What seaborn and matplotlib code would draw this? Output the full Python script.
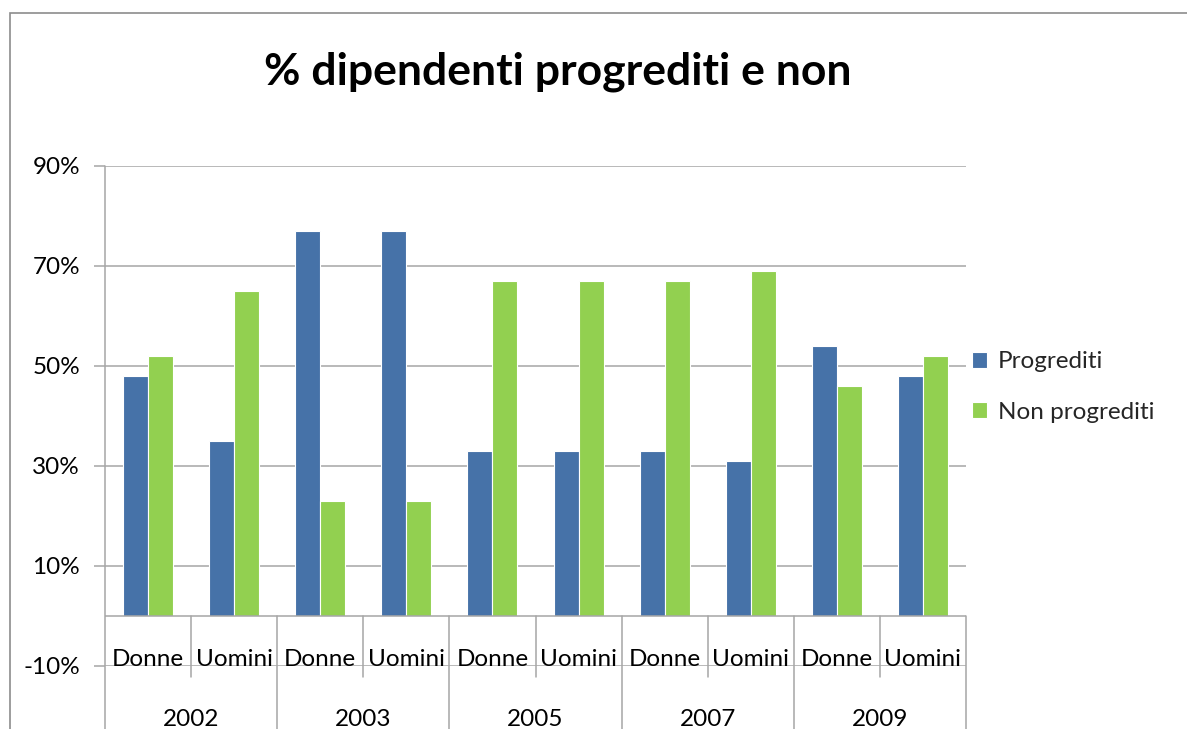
import matplotlib
matplotlib.use('Agg')
import matplotlib.pyplot as plt
from matplotlib.patches import Rectangle
import pandas as pd
import seaborn as sns

# Data
anni = ['2002', '2003', '2005', '2007', '2009']
sessi = ['Donne', 'Uomini']
serie = ['Progrediti', 'Non progrediti']
progrediti = [48, 35, 77, 77, 33, 33, 33, 31, 54, 48]
non_progrediti = [52, 65, 23, 23, 67, 67, 67, 69, 46, 52]
y_ticks = [-10, 10, 30, 50, 70, 90]

categorie = [f'{a} {s}' for a in anni for s in sessi]
df = pd.DataFrame({
    'categoria': categorie * 2,
    'serie': [serie[0]] * len(categorie) + [serie[1]] * len(categorie),
    'valore': progrediti + non_progrediti,
})

sns.set_theme(style='white')
plt.rcParams['font.family'] = ['Lato', 'DejaVu Sans']

W, H = 1187, 729
fig = plt.figure(figsize=(W / 100, H / 100), dpi=100)
ax = fig.add_axes([105 / W, 63 / H, 861 / W, 500 / H])

grid_col = '#A6A6A6'
blu = '#4672A8'
verde = '#92D050'
fs = 17.5

sns.barplot(data=df, x='categoria', y='valore', hue='serie', order=categorie,
            hue_order=serie, palette=[blu, verde], saturation=1, width=0.58,
            edgecolor='white', linewidth=0.8, ax=ax, zorder=3)

ax.set_xlim(-0.5, len(categorie) - 0.5)
ax.set_ylim(-10, 90)
ax.set_yticks(y_ticks)
ax.set_yticklabels([f'{v}%' for v in y_ticks], fontsize=fs, color='black')
ax.tick_params(axis='y', which='major', left=True, length=8, width=1.1,
               color=grid_col, pad=10)
ax.set_xticks([])
ax.set_xlabel('')
ax.set_ylabel('')
for s in ax.spines.values():
    s.set_visible(False)

ax.yaxis.grid(True, color=grid_col, linewidth=1.1, zorder=0)
ax.set_axisbelow(True)
ax.axhline(0, color=grid_col, linewidth=1.1, zorder=4)

# left axis line, going below the plot area
ax.plot([0, 0], [-0.3, 1], transform=ax.transAxes, color=grid_col,
        linewidth=1.1, clip_on=False, zorder=4)

# category axis: separators and labels
for i, c in enumerate(categorie):
    anno, sesso = c.split(' ')
    ax.text(i, -8.8, sesso, ha='center', va='center', fontsize=fs,
            color='black', zorder=5)
for j, anno in enumerate(anni):
    ax.text(2 * j + 0.5, -20.8, anno, ha='center', va='center', fontsize=fs,
            color='black', clip_on=False)
    ax.plot([2 * j + 0.5, 2 * j + 0.5], [0, -12.2], color=grid_col,
            linewidth=1.1, clip_on=False, zorder=4)
    ax.plot([2 * j + 1.5, 2 * j + 1.5], [0, -30], color=grid_col,
            linewidth=1.1, clip_on=False, zorder=4)

# title
fig.text(558 / W, 1 - 72 / H, '% dipendenti progrediti e non', ha='center',
         va='center', fontsize=32, fontweight='bold', color='black')

# legend
handles, labels = ax.get_legend_handles_labels()
ax.legend(handles, labels, loc='center left',
          bbox_to_anchor=(972 / W, 1 - 387 / H), bbox_transform=fig.transFigure,
          frameon=False, fontsize=fs, handlelength=0.6, handleheight=0.6,
          handletextpad=0.45, labelspacing=1.2, borderpad=0, borderaxespad=0)

# chart border
fig.patches.append(Rectangle((10 / W, -0.1), 1.2, 1 - 13 / H + 0.1,
                             transform=fig.transFigure, fill=False,
                             edgecolor='#8C8C8C', linewidth=1.2))

fig.savefig('out.png', dpi=100)
